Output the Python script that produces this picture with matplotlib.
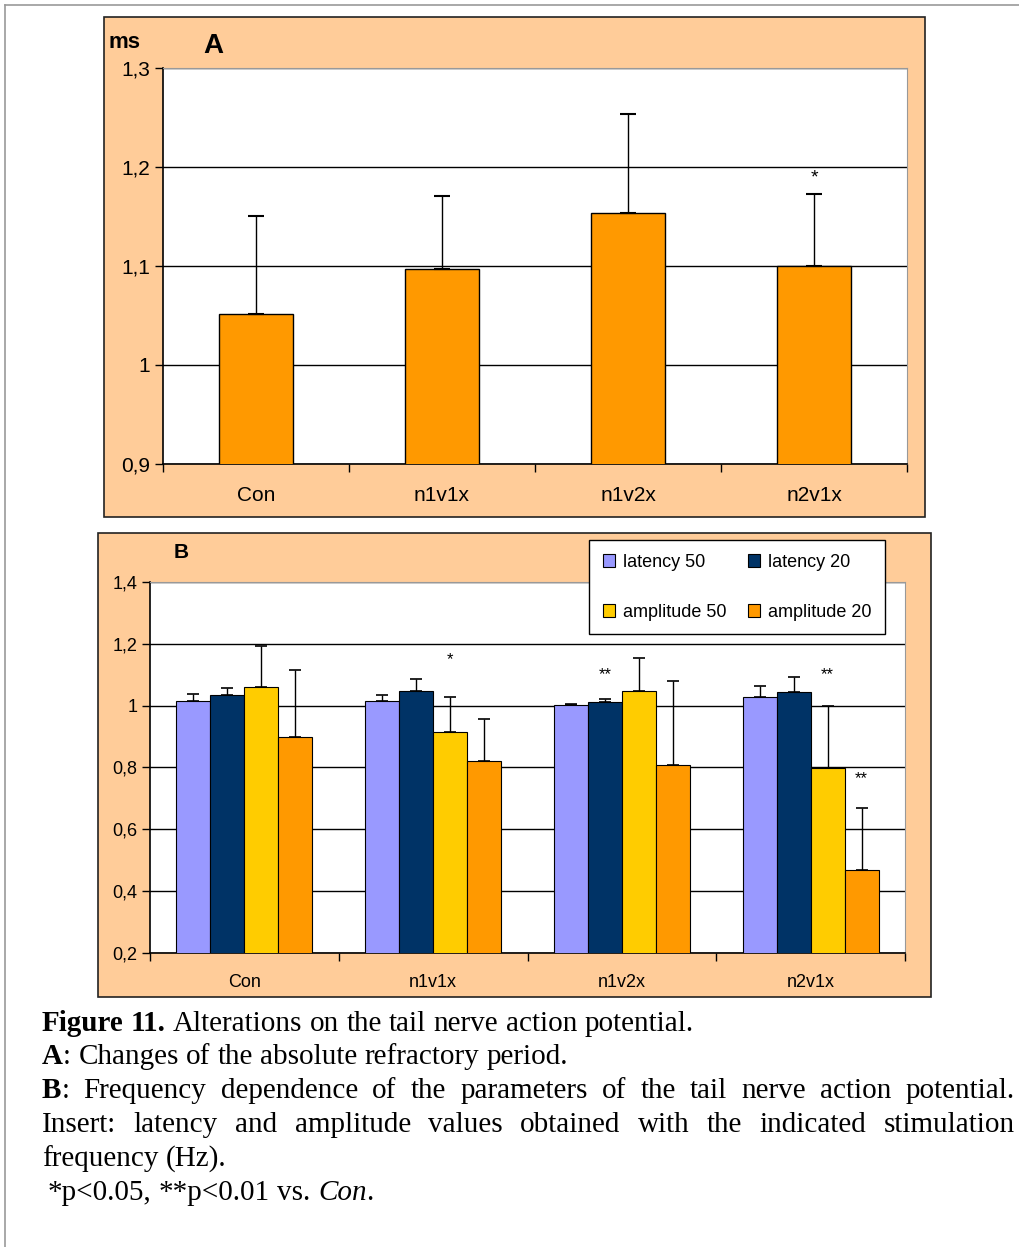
import numpy as np
import matplotlib
matplotlib.use("Agg")
import matplotlib.pyplot as plt
from matplotlib.patches import Rectangle
from matplotlib.lines import Line2D

W, H = 1019, 1247
plt.rcParams['font.family'] = ['Liberation Sans', 'DejaVu Sans']

# ---- data ----
groups = ['Con', 'n1v1x', 'n1v2x', 'n2v1x']

# panel A: absolute refractory period (ms)
refr_mean = [1.052, 1.097, 1.154, 1.100]
refr_err = [0.099, 0.074, 0.100, 0.073]
refr_sig = ['', '', '', '*']

# panel B: normalized latency / amplitude
series_names = ['latency 50', 'latency 20', 'amplitude 50', 'amplitude 20']
series_colors = ['#9999FF', '#003366', '#FFCC00', '#FF9900']
lat50 = [1.014, 1.014, 1.002, 1.027]
lat50_err = [0.025, 0.022, 0.002, 0.038]
lat20 = [1.035, 1.047, 1.011, 1.043]
lat20_err = [0.021, 0.038, 0.012, 0.051]
amp50 = [1.060, 0.915, 1.047, 0.797]
amp50_err = [0.133, 0.113, 0.108, 0.201]
amp20 = [0.898, 0.820, 0.809, 0.470]
amp20_err = [0.216, 0.136, 0.272, 0.200]
# (group, series) -> marker and label height
sig_b = {(1, 2): ('*', 1.15), (2, 1): ('**', 1.10), (3, 2): ('**', 1.10), (3, 3): ('**', 0.765)}

ORANGE_BG = '#FFCC99'


def px_rect(x0, y0, x1, y1):
    return [x0 / W, 1 - y1 / H, (x1 - x0) / W, (y1 - y0) / H]


fig = plt.figure(figsize=(W / 100, H / 100), dpi=100)
fig.patch.set_facecolor('white')

# outer page frame
fig.add_artist(Line2D([5 / W, 5 / W], [0, 1 - 5 / H], color='#999999', lw=1.2, transform=fig.transFigure))
fig.add_artist(Line2D([5 / W, 1], [1 - 5 / H, 1 - 5 / H], color='#999999', lw=1.2, transform=fig.transFigure))

# chart backgrounds
for x0, y0, x1, y1 in [(104, 17, 925, 517), (98, 533, 931, 997)]:
    r = px_rect(x0, y0, x1, y1)
    fig.add_artist(Rectangle((r[0], r[1]), r[2], r[3], facecolor=ORANGE_BG,
                             edgecolor='#222222', lw=1.2, transform=fig.transFigure, zorder=0))


def style_axes(ax, ymin, ymax, step, fs, xpad):
    x = np.arange(len(groups))
    ax.set_xlim(-0.5, len(groups) - 0.5)
    ax.set_ylim(ymin, ymax)
    ticks = np.round(np.arange(ymin, ymax + step / 2, step), 2)
    ax.set_yticks(ticks)
    ax.set_yticklabels([('%g' % t).replace('.', ',') for t in ticks], fontsize=fs)
    ax.set_xticks(x)
    ax.set_xticklabels(groups, fontsize=fs)
    ax.set_xticks(np.arange(-0.5, len(groups)), minor=True)
    ax.tick_params(axis='x', which='major', length=0, pad=xpad)
    ax.tick_params(axis='x', which='minor', length=6, width=1, color='black')
    ax.tick_params(axis='y', length=6, width=1, pad=3)
    ax.yaxis.grid(True, color='black', lw=1)
    ax.set_axisbelow(True)
    for s in ['top', 'right']:
        ax.spines[s].set_color('#999999')
    for s in ['left', 'bottom']:
        ax.spines[s].set_color('black')
        ax.spines[s].set_linewidth(1.2)
    ax.set_facecolor('white')


# ---- panel A ----
axA = fig.add_axes(px_rect(163, 68, 907, 464))
xA = np.arange(len(groups))
axA.bar(xA, refr_mean, width=0.40, color='#FF9900', edgecolor='black', lw=1, zorder=3)
axA.errorbar(xA, refr_mean, yerr=[np.zeros(4), refr_err], fmt='none', ecolor='black',
             elinewidth=1, capsize=6, capthick=1.5, zorder=4)
for i, s in enumerate(refr_sig):
    if s:
        axA.text(xA[i], refr_mean[i] + refr_err[i] + 0.016, s, ha='center', va='center', fontsize=14)
style_axes(axA, 0.9, 1.3, 0.1, 15, 16)
fig.text(108 / W, 1 - 42 / H, 'ms', fontsize=16, weight='bold', va='center', ha='left')
fig.text(203 / W, 1 - 46 / H, 'A', fontsize=20, weight='bold', va='center', ha='left')

# ---- panel B ----
axB = fig.add_axes(px_rect(150, 582, 905, 953))
xB = np.arange(len(groups))
bw = 0.18
series = [(lat50, lat50_err), (lat20, lat20_err), (amp50, amp50_err), (amp20, amp20_err)]
handles = []
for k, ((vals, errs), col, name) in enumerate(zip(series, series_colors, series_names)):
    pos = xB + (k - 1.5) * bw
    b = axB.bar(pos, vals, width=bw, color=col, edgecolor='black', lw=0.8, zorder=3, label=name)
    axB.errorbar(pos, vals, yerr=[np.zeros(4), errs], fmt='none', ecolor='black',
                 elinewidth=1, capsize=4, capthick=1.2, zorder=4)
    handles.append(b)
for (g, k), (s, y) in sig_b.items():
    axB.text(xB[g] + (k - 1.5) * bw, y, s, ha='center', va='center', fontsize=12)
style_axes(axB, 0.2, 1.4, 0.2, 13, 15)
fig.text(174 / W, 1 - 553 / H, 'B', fontsize=15, weight='bold', va='center', ha='left')

# legend filled column-first: reorder so rows read latency / amplitude
order = [0, 2, 1, 3]
leg = fig.legend(handles=[handles[i] for i in order], labels=[series_names[i] for i in order],
                 ncol=2, loc='upper left',
                 bbox_to_anchor=(589 / W, 1 - 540 / H), fontsize=13, frameon=True,
                 fancybox=False, edgecolor='black', framealpha=1, handlelength=0.7,
                 handleheight=0.7, handletextpad=0.45, labelspacing=1.85, columnspacing=1.15,
                 borderpad=0.75, borderaxespad=0)
leg.get_frame().set_linewidth(1)

# ---- caption ----
FS = 21
SERIF = 'Liberation Serif'
renderer = fig.canvas.get_renderer()


def place_line(words, ybase, x_left=42, x_right=None):
    arts = []
    widths = []
    for w in words:
        parts = []
        tot = 0
        for txt, wt, st in w:
            t = fig.text(0, 1 - ybase / H, txt, fontsize=FS, family=SERIF, weight=wt,
                         style=st, va='baseline', ha='left')
            wd = t.get_window_extent(renderer).width
            parts.append((t, wd))
            tot += wd
        arts.append(parts)
        widths.append(tot)
    space = FS * 100 / 72 * 0.25
    if x_right is not None and len(words) > 1:
        space = (x_right - x_left - sum(widths)) / (len(words) - 1)
    x = x_left
    for parts, tot in zip(arts, widths):
        for t, wd in parts:
            t.set_x(x / W)
            x += wd
        x += space


def words_of(text, wt='normal', st='normal'):
    return [[(w, wt, st)] for w in text.split()]


place_line([[('Figure', 'bold', 'normal')], [('11.', 'bold', 'normal')]]
           + words_of('Alterations on the tail nerve action potential.'), 1031)
place_line([[('A', 'bold', 'normal'), (':', 'normal', 'normal')]]
           + words_of('Changes of the absolute refractory period.'), 1064)
place_line([[('B', 'bold', 'normal'), (':', 'normal', 'normal')]]
           + words_of('Frequency dependence of the parameters of the tail nerve action potential.'),
           1098, x_right=1015)
place_line(words_of('Insert: latency and amplitude values obtained with the indicated stimulation'),
           1132, x_right=1015)
place_line(words_of('frequency (Hz).'), 1166)
place_line(words_of('*p<0.05, **p<0.01 vs.') + [[('Con', 'normal', 'italic'), ('.', 'normal', 'normal')]],
           1200, x_left=48)

fig.savefig('out.png', dpi=100, facecolor='white')
